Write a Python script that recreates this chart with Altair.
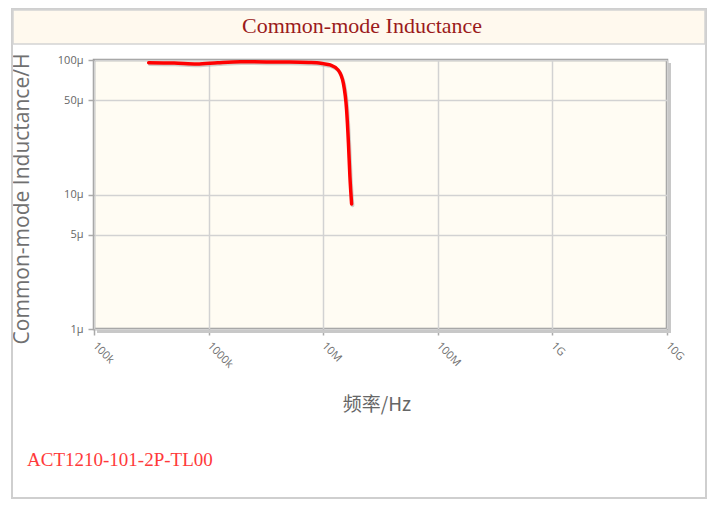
import json
import altair as alt
import pandas as pd

# ---- data ----
freq_hz = [3.0e5, 5.0e5, 7.9e5, 1.2e6, 1.9e6, 3.2e6, 5.1e6, 7.5e6, 8.8e6,
           1.0e7, 1.15e7, 1.35e7, 1.5e7, 1.6e7, 1.66e7, 1.71e7, 1.77e7]
inductance_h = [95.5e-6, 95.0e-6, 93.5e-6, 95.5e-6, 97.0e-6, 96.8e-6, 96.6e-6, 96.0e-6, 95.5e-6,
                94.0e-6, 91.8e-6, 84.3e-6, 67.0e-6, 42.5e-6, 24.2e-6, 13.6e-6, 8.5e-6]

x_tick_values = [1e5, 1e6, 1e7, 1e8, 1e9, 1e10]
x_tick_labels = ["100k", "1000k", "10M", "100M", "1G", "10G"]
y_tick_values = [1e-6, 5e-6, 1e-5, 5e-5, 1e-4]
y_tick_labels = ["1µ", "5µ", "10µ", "50µ", "100µ"]

title_text = "Common-mode Inductance"
part_number = "ACT1210-101-2P-TL00"
x_title = "频率/Hz"
y_title = "Common-mode Inductance/H"

W, H = 573, 269

df = pd.DataFrame({"f": freq_hz, "L": inductance_h})

x_label_expr = "%s[round(log(datum.value)/LN10) - 5]" % json.dumps(x_tick_labels)
y_map = {str(round(v * 1e6)): lab for v, lab in zip(y_tick_values, y_tick_labels)}
y_label_expr = "%s[''+round(datum.value*1e6)]" % json.dumps(y_map, ensure_ascii=False)

x_scale = alt.Scale(type="log", domain=[1e5, 1e10], nice=False)
y_scale = alt.Scale(type="log", domain=[1e-6, 1e-4], nice=False)

x_axis = alt.Axis(values=x_tick_values, labelExpr=x_label_expr, labelAngle=45,
                  labelAlign="left", labelBaseline="middle", labelPadding=9,
                  labelFontSize=11, labelColor="#707070", labelFont="Open Sans",
                  tickSize=6, tickColor="#aaa", tickWidth=1.5, domain=False,
                  grid=True, gridColor="#d2d2d2", gridWidth=1.5,
                  title=x_title, titleFont="Noto Sans CJK SC", titleFontSize=19,
                  titleFontWeight="normal", titleColor="#666",
                  titleX=W / 2 - 4, titleY=81, titleBaseline="alphabetic",
                  labelOverlap=False, labelFlush=False)
y_axis = alt.Axis(values=y_tick_values, labelExpr=y_label_expr,
                  labelFontSize=11, labelColor="#666", labelFont="Open Sans",
                  labelPadding=5, tickSize=6, tickColor="#aaa", tickWidth=1.5,
                  domain=False, grid=True, gridColor="#d2d2d2", gridWidth=1.5,
                  title=y_title, titleFont="Open Sans", titleFontSize=21,
                  titleFontWeight="normal", titleColor="#707070", titleAngle=-90,
                  titleX=-72, titleY=H / 2 + 4, titleAlign="center",
                  titleBaseline="middle", labelOverlap=False, labelFlush=False)

one = pd.DataFrame({"a": [0]})

frame = alt.Chart(one).mark_rect(fill="white", fillOpacity=0, stroke="#cfcfcf",
                                 strokeWidth=2).encode(
    x=alt.value(-82), x2=alt.value(612), y=alt.value(-51), y2=alt.value(438))
band = alt.Chart(one).mark_rect(fill="#fff9ee", stroke="#d4d4d4",
                                strokeWidth=1.5).encode(
    x=alt.value(-81), x2=alt.value(611), y=alt.value(-50), y2=alt.value(-16))
title = alt.Chart(one).mark_text(font="Liberation Serif", fontSize=22,
                                 color="#9b1b1b", baseline="middle").encode(
    x=alt.value(268), y=alt.value(-34), text=alt.value(title_text))
pn = alt.Chart(one).mark_text(font="Liberation Serif", fontSize=19,
                              color="#ff3a3a", align="left",
                              baseline="middle").encode(
    x=alt.value(-67), y=alt.value(400), text=alt.value(part_number))
shadow_r = alt.Chart(one).mark_rect(fill="#c8c8c8").encode(
    x=alt.value(W + 1), x2=alt.value(W + 4), y=alt.value(3), y2=alt.value(H + 4))
shadow_b = alt.Chart(one).mark_rect(fill="#c8c8c8").encode(
    x=alt.value(3), x2=alt.value(W + 4), y=alt.value(H + 1), y2=alt.value(H + 4))

base = alt.Chart(df).encode(
    x=alt.X("f:Q", scale=x_scale, axis=x_axis),
    y=alt.Y("L:Q", scale=y_scale, axis=y_axis),
)
line_shadow = base.mark_line(color="#999", opacity=0.45, strokeWidth=3.5,
                             interpolate="monotone", xOffset=1, yOffset=1.5,
                             strokeCap="round")
line = base.mark_line(color="#ff0000", strokeWidth=3.5, interpolate="monotone",
                      strokeCap="round")

chart = alt.layer(frame, band, title, pn, shadow_r, shadow_b, line_shadow, line).properties(
    width=W, height=H,
    autosize=alt.AutoSizeParams(type="none"),
    padding={"left": 86, "top": 52, "right": 41, "bottom": 170},
    background="white",
).configure_view(fill="#fffcf3", stroke="#9a9a9a", strokeWidth=2.5)

chart.save("out.html", embed_options={"renderer": "svg", "actions": False})
